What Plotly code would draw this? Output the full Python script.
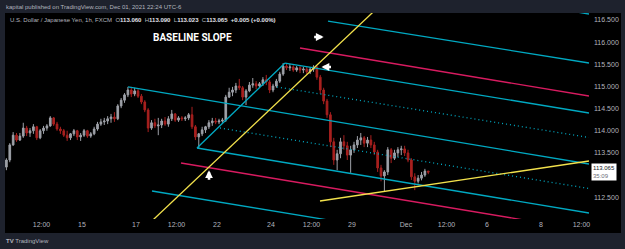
import plotly.graph_objects as go

# ---------------- data ----------------
# x axis: trading days counted from Nov 15 00:00 (weekend gaps removed, as on TradingView)
bar_start_day = -2.8
bar_step_day = 0.125          # 3-hour bars
first_open = 113.18

high = [113.38, 113.72, 113.97, 113.95, 113.95, 114.18, 114.11, 114.06, 114.15, 114.11,
        114.04, 114.11, 114.15, 114.33, 114.31, 114.20, 114.09, 114.04, 114.00, 113.95,
        114.04, 114.02, 113.95, 114.04, 114.02, 113.97, 114.09, 114.20, 114.27, 114.29,
        114.33, 114.38, 114.42, 114.60, 114.74, 114.85, 114.99, 114.99, 114.97, 114.94,
        114.83, 114.69, 114.51, 114.24, 114.27, 114.29, 114.27, 114.31, 114.33, 114.47,
        114.40, 114.33, 114.33, 114.33, 114.40, 114.54, 114.13, 113.95, 114.09, 114.11,
        114.24, 114.29, 114.29, 114.27, 114.29, 114.81, 114.97, 114.99, 115.08, 115.17,
        115.01, 114.94, 115.10, 115.19, 115.12, 115.10, 115.21, 115.26, 115.15, 115.06,
        115.17, 115.33, 115.53, 115.53, 115.51, 115.48, 115.46, 115.46, 115.44, 115.44,
        115.44, 115.48, 115.46, 115.26, 114.97, 114.72, 114.42, 113.84, 113.57, 113.84,
        113.90, 113.75, 113.66, 113.75, 113.88, 113.95, 113.88, 113.86, 113.90, 113.75,
        113.57, 113.23, 113.11, 113.63, 113.61, 113.57, 113.63, 113.66, 113.66, 113.57,
        113.38, 113.04, 113.00, 113.07, 113.14, 113.09]
low = [113.11, 113.29, 113.66, 113.75, 113.77, 113.84, 113.88, 113.86, 113.93, 113.79,
       113.81, 113.93, 114.00, 114.09, 114.11, 114.00, 113.93, 113.86, 113.77, 113.79,
       113.88, 113.79, 113.77, 113.86, 113.84, 113.84, 113.90, 114.00, 114.11, 114.13,
       114.15, 114.18, 114.20, 114.24, 114.51, 114.63, 114.76, 114.76, 114.78, 114.74,
       114.60, 114.42, 113.97, 114.02, 114.06, 113.90, 114.06, 114.11, 114.09, 114.22,
       114.20, 114.20, 114.22, 114.22, 114.24, 114.04, 113.79, 113.61, 113.88, 113.95,
       114.04, 114.11, 114.15, 114.15, 114.18, 114.20, 114.74, 114.78, 114.85, 114.92,
       114.69, 114.58, 114.87, 114.97, 114.94, 114.97, 115.01, 115.03, 114.85, 114.87,
       114.97, 115.08, 115.24, 115.37, 115.35, 115.33, 115.33, 115.30, 115.30, 115.28,
       115.28, 115.33, 115.15, 114.83, 114.60, 114.29, 113.63, 113.23, 113.11, 113.38,
       113.57, 113.34, 113.05, 113.50, 113.61, 113.68, 113.63, 113.63, 113.61, 113.45,
       113.07, 112.86, 112.62, 113.00, 113.27, 113.34, 113.41, 113.45, 113.43, 113.29,
       112.89, 112.66, 112.81, 112.88, 112.96, 113.02]
close = [113.34, 113.68, 113.90, 113.79, 113.88, 114.06, 113.95, 114.00, 114.09, 113.84,
         114.00, 114.06, 114.11, 114.29, 114.15, 114.04, 114.00, 113.90, 113.84, 113.93,
         114.00, 113.86, 113.90, 114.00, 113.88, 113.93, 114.04, 114.15, 114.20, 114.22,
         114.27, 114.31, 114.27, 114.56, 114.69, 114.81, 114.92, 114.83, 114.90, 114.78,
         114.65, 114.47, 114.06, 114.18, 114.11, 114.13, 114.22, 114.15, 114.27, 114.38,
         114.24, 114.29, 114.27, 114.29, 114.36, 114.09, 113.86, 113.93, 114.02, 114.09,
         114.18, 114.22, 114.20, 114.22, 114.24, 114.76, 114.87, 114.92, 115.01, 114.97,
         114.76, 114.90, 115.03, 115.06, 115.01, 115.06, 115.15, 115.10, 114.92, 115.01,
         115.12, 115.28, 115.46, 115.42, 115.44, 115.37, 115.42, 115.37, 115.39, 115.33,
         115.39, 115.44, 115.21, 114.92, 114.67, 114.36, 113.75, 113.34, 113.48, 113.75,
         113.66, 113.45, 113.57, 113.68, 113.79, 113.84, 113.72, 113.79, 113.68, 113.52,
         113.16, 112.98, 113.07, 113.57, 113.38, 113.50, 113.57, 113.59, 113.50, 113.34,
         112.96, 112.86, 112.93, 113.00, 113.09, 113.065]

tick_days = [-1.5, 0, 2, 3.5, 5, 7, 8.5, 10, 12, 13.5, 15, 17, 18.5]
tick_text = ["12:00", "15", "17", "12:00", "22", "24", "12:00", "29", "Dec", "12:00", "6", "8", "12:00"]
price_ticks = [112.5, 113.5, 114.0, 114.5, 115.0, 115.5, 116.0, 116.5]
last_price = 113.065

# drawings (x in trading days, y in price)
top_outer_line = ([15.0, 18.778], [117.013, 116.635])
upper_level_line = ([9.111, 18.778], [116.477, 115.529])
upper_red_line = ([8.074, 18.778], [115.868, 114.784])
upper_tine = ([7.519, 18.778], [115.529, 114.401])
upper_dotted = ([7.222, 18.778], [114.988, 113.848])
median_line = ([1.704, 18.778], [114.988, 113.249])
lower_dotted = ([5.111, 18.778], [114.062, 112.696])
lower_tine = ([4.259, 18.778], [113.611, 112.143])
handle_line = ([4.259, 7.519], [113.611, 115.529])
lower_red_line = ([3.667, 18.778], [113.272, 111.741])
bottom_level_line = ([2.593, 18.778], [112.640, 111.015])
steep_yellow = ([2.6, 10.8], [111.97, 116.69])
baseline_yellow = ([8.815, 18.778], [112.414, 113.317])

# ---------------- figure ----------------
CYAN = "#00a9c2"
RED = "#d81b60"
YEL = "#f2e14c"
AX = "#b2b5be"
BG = "#1e222d"

x_days = [bar_start_day + i * bar_step_day for i in range(len(close))]
open_ = [first_open] + close[:-1]

fig = go.Figure()
fig.add_trace(go.Candlestick(
    x=x_days, open=open_, high=high, low=low, close=close,
    increasing=dict(line=dict(color="#9ea1a8", width=1), fillcolor="#9ea1a8"),
    decreasing=dict(line=dict(color="#a8201f", width=1), fillcolor="#a8201f"),
    whiskerwidth=0, hoverinfo="skip", showlegend=False))

drawings = [
    (top_outer_line, CYAN, "solid"),
    (upper_level_line, CYAN, "solid"),
    (upper_red_line, RED, "solid"),
    (upper_tine, CYAN, "solid"),
    (upper_dotted, CYAN, "1px,3px"),
    (median_line, CYAN, "solid"),
    (lower_dotted, CYAN, "1px,3px"),
    (lower_tine, CYAN, "solid"),
    (handle_line, CYAN, "solid"),
    (lower_red_line, RED, "solid"),
    (bottom_level_line, CYAN, "solid"),
    (steep_yellow, YEL, "solid"),
    (baseline_yellow, YEL, "solid"),
]
for (xs, ys), col, dash in drawings:
    fig.add_trace(go.Scatter(x=xs, y=ys, mode="lines",
                             line=dict(color=col, width=1.3, dash=dash),
                             hoverinfo="skip", showlegend=False))

arrow_style = dict(text="", showarrow=True, arrowhead=2, arrowsize=0.6,
                   arrowwidth=2.6, arrowcolor="#ffffff", xref="x", yref="y")
annotations = [
    dict(x=4.074, y=116.116, xref="x", yref="y", text="<b>BASELINE SLOPE</b>",
         showarrow=False, font=dict(family="Roboto", size=10, color="#ffffff")),
    # arrows
    dict(x=4.704, y=113.11, ax=0, ay=11, **arrow_style),
    dict(x=8.95, y=116.116, ax=-11, ay=0, **arrow_style),
    dict(x=8.87, y=115.439, ax=11, ay=0, **arrow_style),
    # header
    dict(x=-0.0017, y=1.029, xref="paper", yref="paper", xanchor="left", yanchor="middle",
         text="kapital published on TradingView.com, Dec 01, 2021 22:24 UTC-6",
         showarrow=False, font=dict(family="Liberation Sans", size=6, color=AX)),
    dict(x=0.005, y=0.966, xref="paper", yref="paper", xanchor="left", yanchor="middle",
         text=("U.S. Dollar / Japanese Yen, 1h, FXCM  O<span style='color:#e0e3eb'><b>113.060</b></span>"
               "  H<span style='color:#e0e3eb'><b>113.090</b></span>"
               "  L<span style='color:#e0e3eb'><b>113.023</b></span>"
               "  C<span style='color:#e0e3eb'><b>113.065</b></span>"
               "  <span style='color:#e0e3eb'><b>+0.005 (+0.00%)</b></span>"),
         showarrow=False, font=dict(family="Liberation Sans", size=6, color=AX)),
    dict(x=-0.0017, y=-0.107, xref="paper", yref="paper", xanchor="left", yanchor="middle",
         text="<b>TV</b> TradingView", showarrow=False,
         font=dict(family="Liberation Sans", size=6, color=AX)),
    # last price label
    dict(x=1.0265, y=last_price, xref="paper", yref="y", xanchor="center", yanchor="middle",
         text="113.065<br><span style='color:#6a6d78'>35:09</span>", showarrow=False,
         bgcolor="#ffffff", borderpad=1, align="left",
         font=dict(family="Liberation Sans", size=6, color="#131722")),
]

shapes = [
    dict(type="rect", xref="paper", yref="paper", x0=0, x1=1.0548, y0=-0.068, y1=1.0,
         fillcolor="#000000", line=dict(width=0), layer="below"),
]

fig.update_layout(
    width=625, height=249, autosize=False,
    margin=dict(l=5, r=36, t=13, b=30),
    paper_bgcolor=BG, plot_bgcolor="#000000",
    showlegend=False,
    annotations=annotations, shapes=shapes,
    xaxis=dict(range=[-2.852, 18.778], tickvals=tick_days, ticktext=tick_text,
               showgrid=False, zeroline=False, showline=False, ticks="",
               tickfont=dict(family="Liberation Sans", size=7, color=AX),
               rangeslider=dict(visible=False), fixedrange=True),
    yaxis=dict(range=[112.008, 116.658], side="right", tickvals=price_ticks,
               ticktext=[f"{v:.3f}" for v in price_ticks],
               showgrid=False, zeroline=False, showline=False, ticks="",
               ticklabelstandoff=4,
               tickfont=dict(family="Liberation Sans", size=7, color=AX), fixedrange=True),
)

fig.write_html("out.html")
